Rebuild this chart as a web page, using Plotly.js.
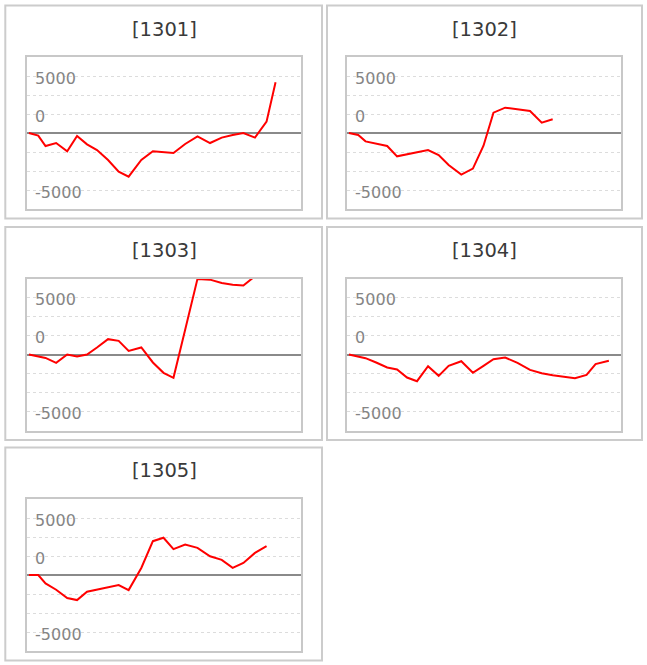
<!DOCTYPE html>
<html>
<head>
<meta charset="utf-8">
<script src="https://cdn.plot.ly/plotly-3.0.1.min.js"></script>
<style>
  html, body { margin: 0; padding: 0; background: #fff; }
  #chart { width: 647px; height: 665px; }
</style>
</head>
<body>
<div id="chart"></div>
<script>
// trading days (position along the x axis), shared by every panel
const days = [0, 0.87, 1.55, 2.54, 3.57, 4.49, 5.42, 6.35, 7.38, 8.37, 9.30, 10.48, 11.56,
    12.55, 13.48, 14.57, 15.72, 16.89, 17.98, 19.00, 20.00, 21.08, 22.16, 23.00, 24.24];

const codes = ['[1301]', '[1302]', '[1303]', '[1304]', '[1305]'];

const s1301 = [0, -350, -1710, -1320, -2410, -400, -1490, -2240, -3550, -5090, -5750, -3550,
    -2410, -2520, -2630, -1450, -440, -1320, -610, -260, 0, -610, 1490, 6670];
const s1302 = [0, -260, -1100, -1360, -1710, -3070, -2800, -2500, -2240, -2900, -4210, -5480,
    -4690, -1670, 2680, 3330, 3160, 2900, 1360, 1800];
const s1303 = [0, -200, -450, -1100, 0, -260, 0, 920, 2020, 1800, 480, 920, -1050, -2410,
    -3070, 3260, 9950, 9850, 9400, 9180, 9080, 10300];
const s1304 = [0, -220, -480, -1050, -1710, -1970, -3030, -3510, -1540, -2810, -1490, -880,
    -2410, -1490, -610, -400, -1100, -2020, -2460, -2720, -2940, -3110, -2680, -1270, -830];
const s1305 = [0, 0, -1100, -1940, -3040, -3300, -2200, -1940, -1630, -1320, -1990, 930,
    4450, 4900, 3400, 4010, 3570, 2470, 1990, 930, 1590, 2910, 3790];

const series = [s1301, s1302, s1303, s1304, s1305];

// y grid and the labels as they appear on the chart
const tickVals = [-7500, -5000, -2500, 0, 2500, 5000, 7500];
const tickText = ['-5000', '', '', '', '0', '', '5000'];

const W = 647, H = 665;
const px = x => x / W;
const py = y => 1 - y / H;

const plotLeft = [27.3, 347.3];
const plotWidth = 274;
const zeroY = [133, 354.5, 575];
const halfH = 76;
const boxX = [[5.3, 322], [327, 642]];

const data = [];
const layout = {
    width: W,
    height: H,
    margin: { t: 0, r: 0, l: 0, b: 0 },
    paper_bgcolor: '#fff',
    plot_bgcolor: '#fff',
    showlegend: false,
    shapes: [],
    annotations: []
};

series.forEach((ys, i) => {
    const col = i % 2, row = Math.floor(i / 2);
    const n = i + 1;
    const sfx = n === 1 ? '' : String(n);

    data.push({
        type: 'scatter',
        mode: 'lines',
        x: days.slice(0, ys.length),
        y: ys,
        xaxis: 'x' + sfx,
        yaxis: 'y' + sfx,
        line: { color: '#ff0000', width: 2 },
        hoverinfo: 'skip'
    });

    layout['xaxis' + sfx] = {
        domain: [px(plotLeft[col]), px(plotLeft[col] + plotWidth)],
        anchor: 'y' + sfx,
        range: [-0.15, 25.4],
        showgrid: false,
        zeroline: false,
        showticklabels: false,
        ticks: '',
        showline: true,
        mirror: true,
        linecolor: '#c8c8c8',
        linewidth: 2,
        fixedrange: true
    };
    layout['yaxis' + sfx] = {
        domain: [py(zeroY[row] + halfH), py(zeroY[row] - halfH)],
        anchor: 'x' + sfx,
        range: [-10000, 10000],
        tickmode: 'array',
        tickvals: tickVals,
        ticktext: tickText,
        ticks: '',
        ticklabelposition: 'inside',
        ticklabelstandoff: 8,
        ticklabelshift: 2,
        tickfont: { family: 'DejaVu Sans', size: 16, color: '#858585' },
        showgrid: true,
        gridcolor: '#dcdcdc',
        griddash: 'dot',
        gridwidth: 1,
        zeroline: true,
        zerolinecolor: '#8a8a8a',
        zerolinewidth: 2,
        showline: true,
        mirror: true,
        linecolor: '#c8c8c8',
        linewidth: 2,
        fixedrange: true
    };

    // panel frame
    layout.shapes.push({
        type: 'rect', xref: 'paper', yref: 'paper', layer: 'below',
        x0: px(boxX[col][0]), x1: px(boxX[col][1]),
        y0: py(zeroY[row] + 85.5), y1: py(zeroY[row] - 127.5),
        line: { color: '#cccccc', width: 2 },
        fillcolor: 'rgba(0,0,0,0)'
    });

    layout.annotations.push({
        text: codes[i],
        xref: 'paper', yref: 'paper',
        x: px(plotLeft[col] + plotWidth / 2),
        y: py(zeroY[row] - 104),
        xanchor: 'center', yanchor: 'middle',
        showarrow: false,
        font: { family: 'DejaVu Sans', size: 19.5, color: '#3a3a3a' }
    });
});

Plotly.newPlot('chart', data, layout, { displayModeBar: false, staticPlot: true });
</script>
</body>
</html>
